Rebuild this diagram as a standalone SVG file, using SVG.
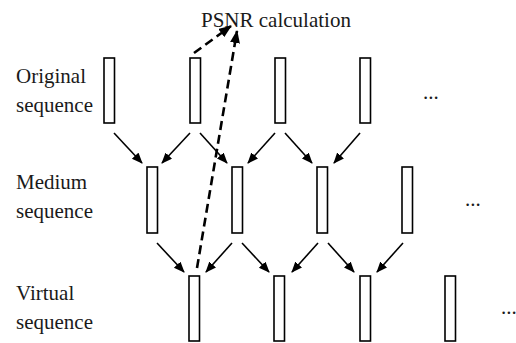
<svg xmlns="http://www.w3.org/2000/svg" width="516" height="343" viewBox="0 0 516 343">
<defs>
<style>
.frame{fill:#fff;stroke:#000;stroke-width:1.6}
.lbl{font-family:"Liberation Serif","Times New Roman",serif;font-size:21px;fill:#1a1a1a}
.a{stroke:#000;stroke-width:1.6;fill:none;marker-end:url(#ah)}
.d{stroke:#000;stroke-width:2.6;fill:none;stroke-dasharray:9 5;marker-end:url(#ahd)}
</style>
<marker id="ah" markerUnits="userSpaceOnUse" markerWidth="13" markerHeight="10" refX="10" refY="4.5" orient="auto">
<path d="M0,0 L11,4.5 L0,9 z" fill="#000"/>
</marker>
<marker id="ahd" markerUnits="userSpaceOnUse" markerWidth="15" markerHeight="11" refX="12" refY="5" orient="auto">
<path d="M0,0 L13,5 L0,10 z" fill="#000"/>
</marker>
</defs>
<rect width="516" height="343" fill="#fff"/>
<g id="title"><text class="lbl" x="201" y="27">PSNR calculation</text></g>
<g id="labels">
<text class="lbl" x="16" y="83">Original</text>
<text class="lbl" x="16" y="112">sequence</text>
<text class="lbl" x="16" y="189">Medium</text>
<text class="lbl" x="16" y="218">sequence</text>
<text class="lbl" x="16" y="300">Virtual</text>
<text class="lbl" x="16" y="329">sequence</text>
</g>
<g id="original">
<rect class="frame" x="104" y="58" width="10.5" height="65"/>
<rect class="frame" x="190" y="58" width="10.5" height="65"/>
<rect class="frame" x="275" y="58" width="10.5" height="65"/>
<rect class="frame" x="360" y="58" width="10.5" height="65"/>
<text class="lbl" x="423" y="99">...</text>
</g>
<g id="medium">
<rect class="frame" x="147" y="167" width="10.5" height="66"/>
<rect class="frame" x="232" y="167" width="10.5" height="66"/>
<rect class="frame" x="317" y="167" width="10.5" height="66"/>
<rect class="frame" x="402" y="167" width="10.5" height="66"/>
<text class="lbl" x="465" y="206">...</text>
</g>
<g id="virtual">
<rect class="frame" x="189" y="276" width="10.5" height="65"/>
<rect class="frame" x="274" y="276" width="10.5" height="65"/>
<rect class="frame" x="360" y="276" width="10.5" height="65"/>
<rect class="frame" x="445" y="276" width="10.5" height="65"/>
<text class="lbl" x="501" y="314">...</text>
</g>
<g id="connectors">
<line class="a" x1="114" y1="133" x2="142" y2="163"/>
<line class="a" x1="190" y1="133" x2="162" y2="163"/>
<line class="a" x1="200" y1="133" x2="227" y2="163"/>
<line class="a" x1="275" y1="133" x2="248" y2="163"/>
<line class="a" x1="285" y1="133" x2="312" y2="163"/>
<line class="a" x1="360" y1="133" x2="334" y2="163"/>
<line class="a" x1="157" y1="243" x2="184" y2="272"/>
<line class="a" x1="232" y1="243" x2="206" y2="272"/>
<line class="a" x1="242" y1="243" x2="269" y2="272"/>
<line class="a" x1="318" y1="243" x2="292" y2="272"/>
<line class="a" x1="328" y1="243" x2="354" y2="272"/>
<line class="a" x1="403" y1="243" x2="377" y2="272"/>
<line class="d" x1="194" y1="53" x2="231" y2="26"/>
<line class="d" x1="197" y1="268" x2="237" y2="31"/>
</g>
</svg>
